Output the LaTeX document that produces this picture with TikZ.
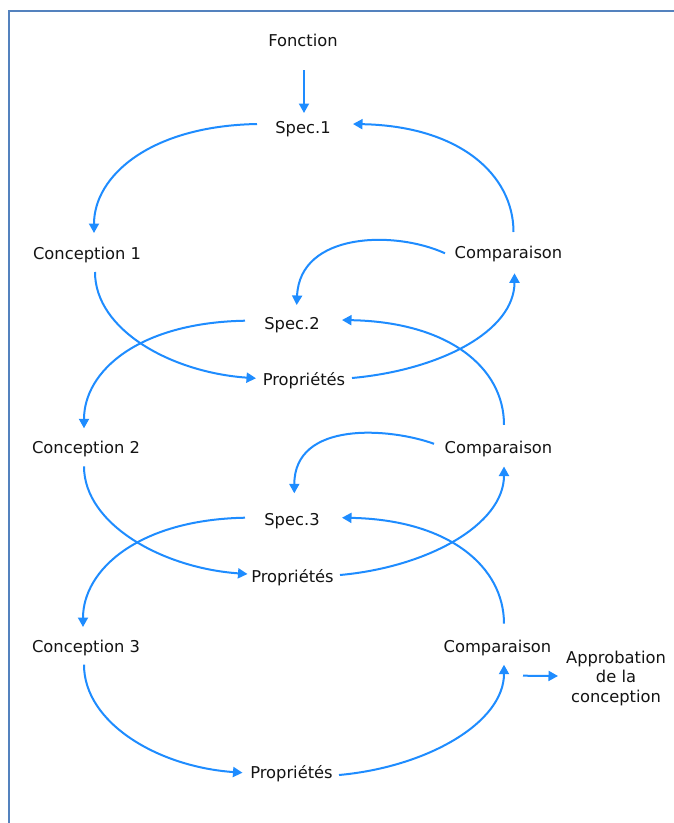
\documentclass[tikz,border=0pt]{standalone}
\usepackage{fontspec}
\setmainfont{DejaVu Sans}
\usetikzlibrary{arrows.meta,calc}
\definecolor{flow}{RGB}{30,140,255}
\definecolor{framecol}{RGB}{84,130,190}
\definecolor{ink}{RGB}{20,20,20}
\begin{document}
\begin{tikzpicture}[x=1pt,y=-1pt,
  txt/.style={inner sep=0pt,text=ink,font=\fontsize{16.3}{19.5}\selectfont,
              text height=12pt,text depth=4pt},
  link/.style={draw=flow,line width=2pt,-{Triangle[length=9.5pt,width=10pt]}},
]
\useasboundingbox (0,0) rectangle (674,823);
\fill[white] (0,0) rectangle (674,823);
% open frame along the top and left edges
\draw[framecol,line width=2pt] (9.4,823) -- (9.4,10.7) -- (674,10.7);

% labels
\node[txt] (fonc)  at (303,42)      {Fonction};
\node[txt] (spec1) at (303,129)     {Spec.1};
\node[txt] (conc1) at (87,255.5)    {Conception 1};
\node[txt] (comp1) at (508.5,254.3) {Comparaison};
\node[txt] (spec2) at (292,325)     {Spec.2};
\node[txt] (prop1) at (304,381)     {Propriétés};
\node[txt] (conc2) at (86,449.3)    {Conception 2};
\node[txt] (comp2) at (498.5,449.3) {Comparaison};
\node[txt] (spec3) at (292,521.7)   {Spec.3};
\node[txt] (prop2) at (292.5,578)   {Propriétés};
\node[txt] (conc3) at (86,648.7)    {Conception 3};
\node[txt] (comp3) at (497.5,648.7) {Comparaison};
\node[txt] (prop3) at (291.5,774)   {Propriétés};
\node[inner sep=0pt,text=ink,font=\fontsize{16.3}{19.5}\selectfont,
      align=center,anchor=north] (appr) at (616,650.5)
      {Approbation\\de la\\conception};

% entry
\draw[link] ($(fonc)+(1,28)$) -- ($(spec1)+(1,-16)$);

% first loop
\draw[link] ($(spec1)+(-46,-5)$) .. controls +(-107,2) and +(0,-57) .. ($(conc1)+(7,-22.5)$);
\draw[link] ($(conc1)+(8,16.5)$) .. controls +(0,58) and +(-85,-6) .. ($(prop1)+(-48,-2.7)$);
\draw[link] ($(prop1)+(48,-3)$) .. controls +(88,-8) and +(0,58) .. ($(comp1)+(6,19)$);
\draw[link] ($(comp1)+(5,-22.3)$) .. controls +(0,-57) and +(107,2) .. ($(spec1)+(50,-5)$);
\draw[link] ($(comp1)+(-63.5,-1)$) .. controls +(-50,-23) and +(3,-73) .. ($(spec2)+(4.7,-20)$);

% second loop
\draw[link] ($(spec2)+(-47,-4.3)$) .. controls +(-107,2) and +(0,-57) .. ($(conc2)+(-2,-21)$);
\draw[link] ($(conc2)+(-2,17)$) .. controls +(0,58) and +(-85,-6) .. ($(prop2)+(-45,-4)$);
\draw[link] ($(prop2)+(47.5,-3)$) .. controls +(88,-8) and +(0,58) .. ($(comp2)+(5.5,17.2)$);
\draw[link] ($(comp2)+(5.5,-24.5)$) .. controls +(0,-57) and +(107,2) .. ($(spec2)+(50,-5)$);
\draw[link] ($(comp2)+(-64.5,-5.5)$) .. controls +(-44,-16) and +(0,-73) .. ($(spec3)+(2.3,-28.4)$);

% third loop
\draw[link] ($(spec3)+(-47,-4)$) .. controls +(-107,2) and +(0,-57) .. ($(conc3)+(-3,-21.7)$);
\draw[link] ($(conc3)+(-2,16)$) .. controls +(0,58) and +(-85,-6) .. ($(prop3)+(-49,-1.3)$);
\draw[link] ($(prop3)+(47.5,1)$) .. controls +(88,-8) and +(0,58) .. ($(comp3)+(6.5,16)$);
\draw[link] ($(comp3)+(6.5,-25)$) .. controls +(0,-57) and +(107,2) .. ($(spec3)+(50,-4)$);

% exit
\draw[link] ($(comp3)+(25.5,27)$) -- ($(appr.north)+(-58,25.5)$);
\end{tikzpicture}
\end{document}
